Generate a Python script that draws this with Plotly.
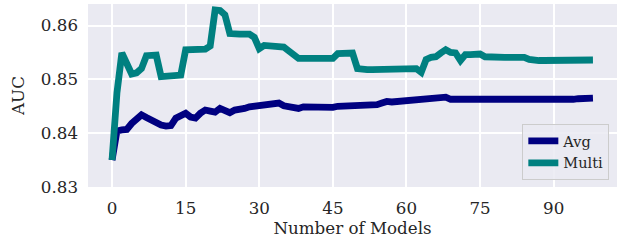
import plotly.graph_objects as go

models = list(range(99))

avg_auc = [
    0.8350, 0.8404, 0.8406, 0.8407, 0.8418, 0.8428, 0.8434, 0.8429, 0.8424, 0.8418,
    0.8415, 0.8413, 0.8414, 0.8428, 0.8432, 0.8437, 0.8430, 0.8428, 0.8437, 0.8443,
    0.8441, 0.8439, 0.8446, 0.8443, 0.8438, 0.8443, 0.8443, 0.8446, 0.8449, 0.8450,
    0.8449, 0.8453, 0.8453, 0.8455, 0.8456, 0.8451, 0.8450, 0.8448, 0.8446, 0.8449,
    0.8449, 0.8448, 0.8446, 0.8446, 0.8447, 0.8448, 0.8450, 0.8450, 0.8451, 0.8451,
    0.8451, 0.8450, 0.8451, 0.8450, 0.8453, 0.8456, 0.8459, 0.8458, 0.8459, 0.8460,
    0.8460, 0.8461, 0.8463, 0.8464, 0.8464, 0.8465, 0.8465, 0.8466, 0.8467, 0.8463,
    0.8463, 0.8460, 0.8462, 0.8463, 0.8463, 0.8462, 0.8461, 0.8461, 0.8460, 0.8460,
    0.8461, 0.8461, 0.8462, 0.8462, 0.8463, 0.8461, 0.8460, 0.8460, 0.8460, 0.8461,
    0.8461, 0.8462, 0.8462, 0.8463, 0.8463, 0.8464, 0.8464, 0.8465, 0.8465,
]

multi_auc = [
    0.8350, 0.8475, 0.8549, 0.8530, 0.8510, 0.8512, 0.8520, 0.8544, 0.8546, 0.8545,
    0.8505, 0.8505, 0.8506, 0.8507, 0.8508, 0.8555, 0.8556, 0.8556, 0.8555, 0.8556,
    0.8562, 0.8629, 0.8628, 0.8620, 0.8585, 0.8583, 0.8584, 0.8584, 0.8584, 0.8578,
    0.8557, 0.8563, 0.8562, 0.8562, 0.8561, 0.8560, 0.8553, 0.8545, 0.8539, 0.8539,
    0.8539, 0.8539, 0.8539, 0.8539, 0.8539, 0.8539, 0.8548, 0.8549, 0.8549, 0.8549,
    0.8520, 0.8518, 0.8518, 0.8518, 0.8518, 0.8518, 0.8519, 0.8519, 0.8519, 0.8519,
    0.8519, 0.8519, 0.8520, 0.8513, 0.8537, 0.8541, 0.8542, 0.8549, 0.8555, 0.8550,
    0.8549, 0.8535, 0.8546, 0.8546, 0.8547, 0.8547, 0.8542, 0.8541, 0.8541, 0.8541,
    0.8541, 0.8541, 0.8541, 0.8541, 0.8541, 0.8537, 0.8535, 0.8535, 0.8535, 0.8535,
    0.8535, 0.8535, 0.8535, 0.8535, 0.8535, 0.8535, 0.8536, 0.8536, 0.8536,
]

x_ticks = [0, 15, 30, 45, 60, 75, 90]
y_ticks = [0.83, 0.84, 0.85, 0.86]

FONT = "DejaVu Serif"
TXT = "#262626"

fig = go.Figure()
fig.add_trace(go.Scatter(x=models, y=avg_auc, mode="lines", name="Avg",
                         line=dict(color="#000080", width=6.8)))
fig.add_trace(go.Scatter(x=models, y=multi_auc, mode="lines", name="Multi",
                         line=dict(color="#008080", width=6.8)))

fig.update_layout(
    width=623, height=242,
    margin=dict(l=88, r=6, t=4, b=55),
    paper_bgcolor="white",
    plot_bgcolor="#eaeaf2",
    font=dict(family=FONT, size=16.7, color=TXT),
    showlegend=True,
    legend=dict(
        x=0.9855, y=0.038, xanchor="right", yanchor="bottom",
        bgcolor="rgba(234,234,242,0.85)", bordercolor="#cccccc", borderwidth=1,
        font=dict(family=FONT, size=14.5, color=TXT),
        tracegroupgap=0, itemwidth=30,
    ),
    xaxis=dict(
        range=[-4.9, 102.9], tickvals=x_ticks, ticktext=[str(v) for v in x_ticks],
        showgrid=True, gridcolor="white", gridwidth=1.5, zeroline=False,
        showline=False, ticks="", ticklabelstandoff=9, automargin=False,
        tickfont=dict(size=16.7),
        title=dict(text="Number of Models", standoff=4, font=dict(size=16.7)),
    ),
    yaxis=dict(
        range=[0.83, 0.864], tickvals=y_ticks, ticktext=[f"{v:.2f}" for v in y_ticks],
        showgrid=True, gridcolor="white", gridwidth=1.5, zeroline=False,
        showline=False, ticks="", ticklabelstandoff=9, automargin=False,
        tickfont=dict(size=16.7),
        title=dict(text="AUC", standoff=11, font=dict(size=16.7)),
    ),
)

fig.write_html("out.html", config={"displayModeBar": False},
               post_script="document.body.style.margin='0px';")
